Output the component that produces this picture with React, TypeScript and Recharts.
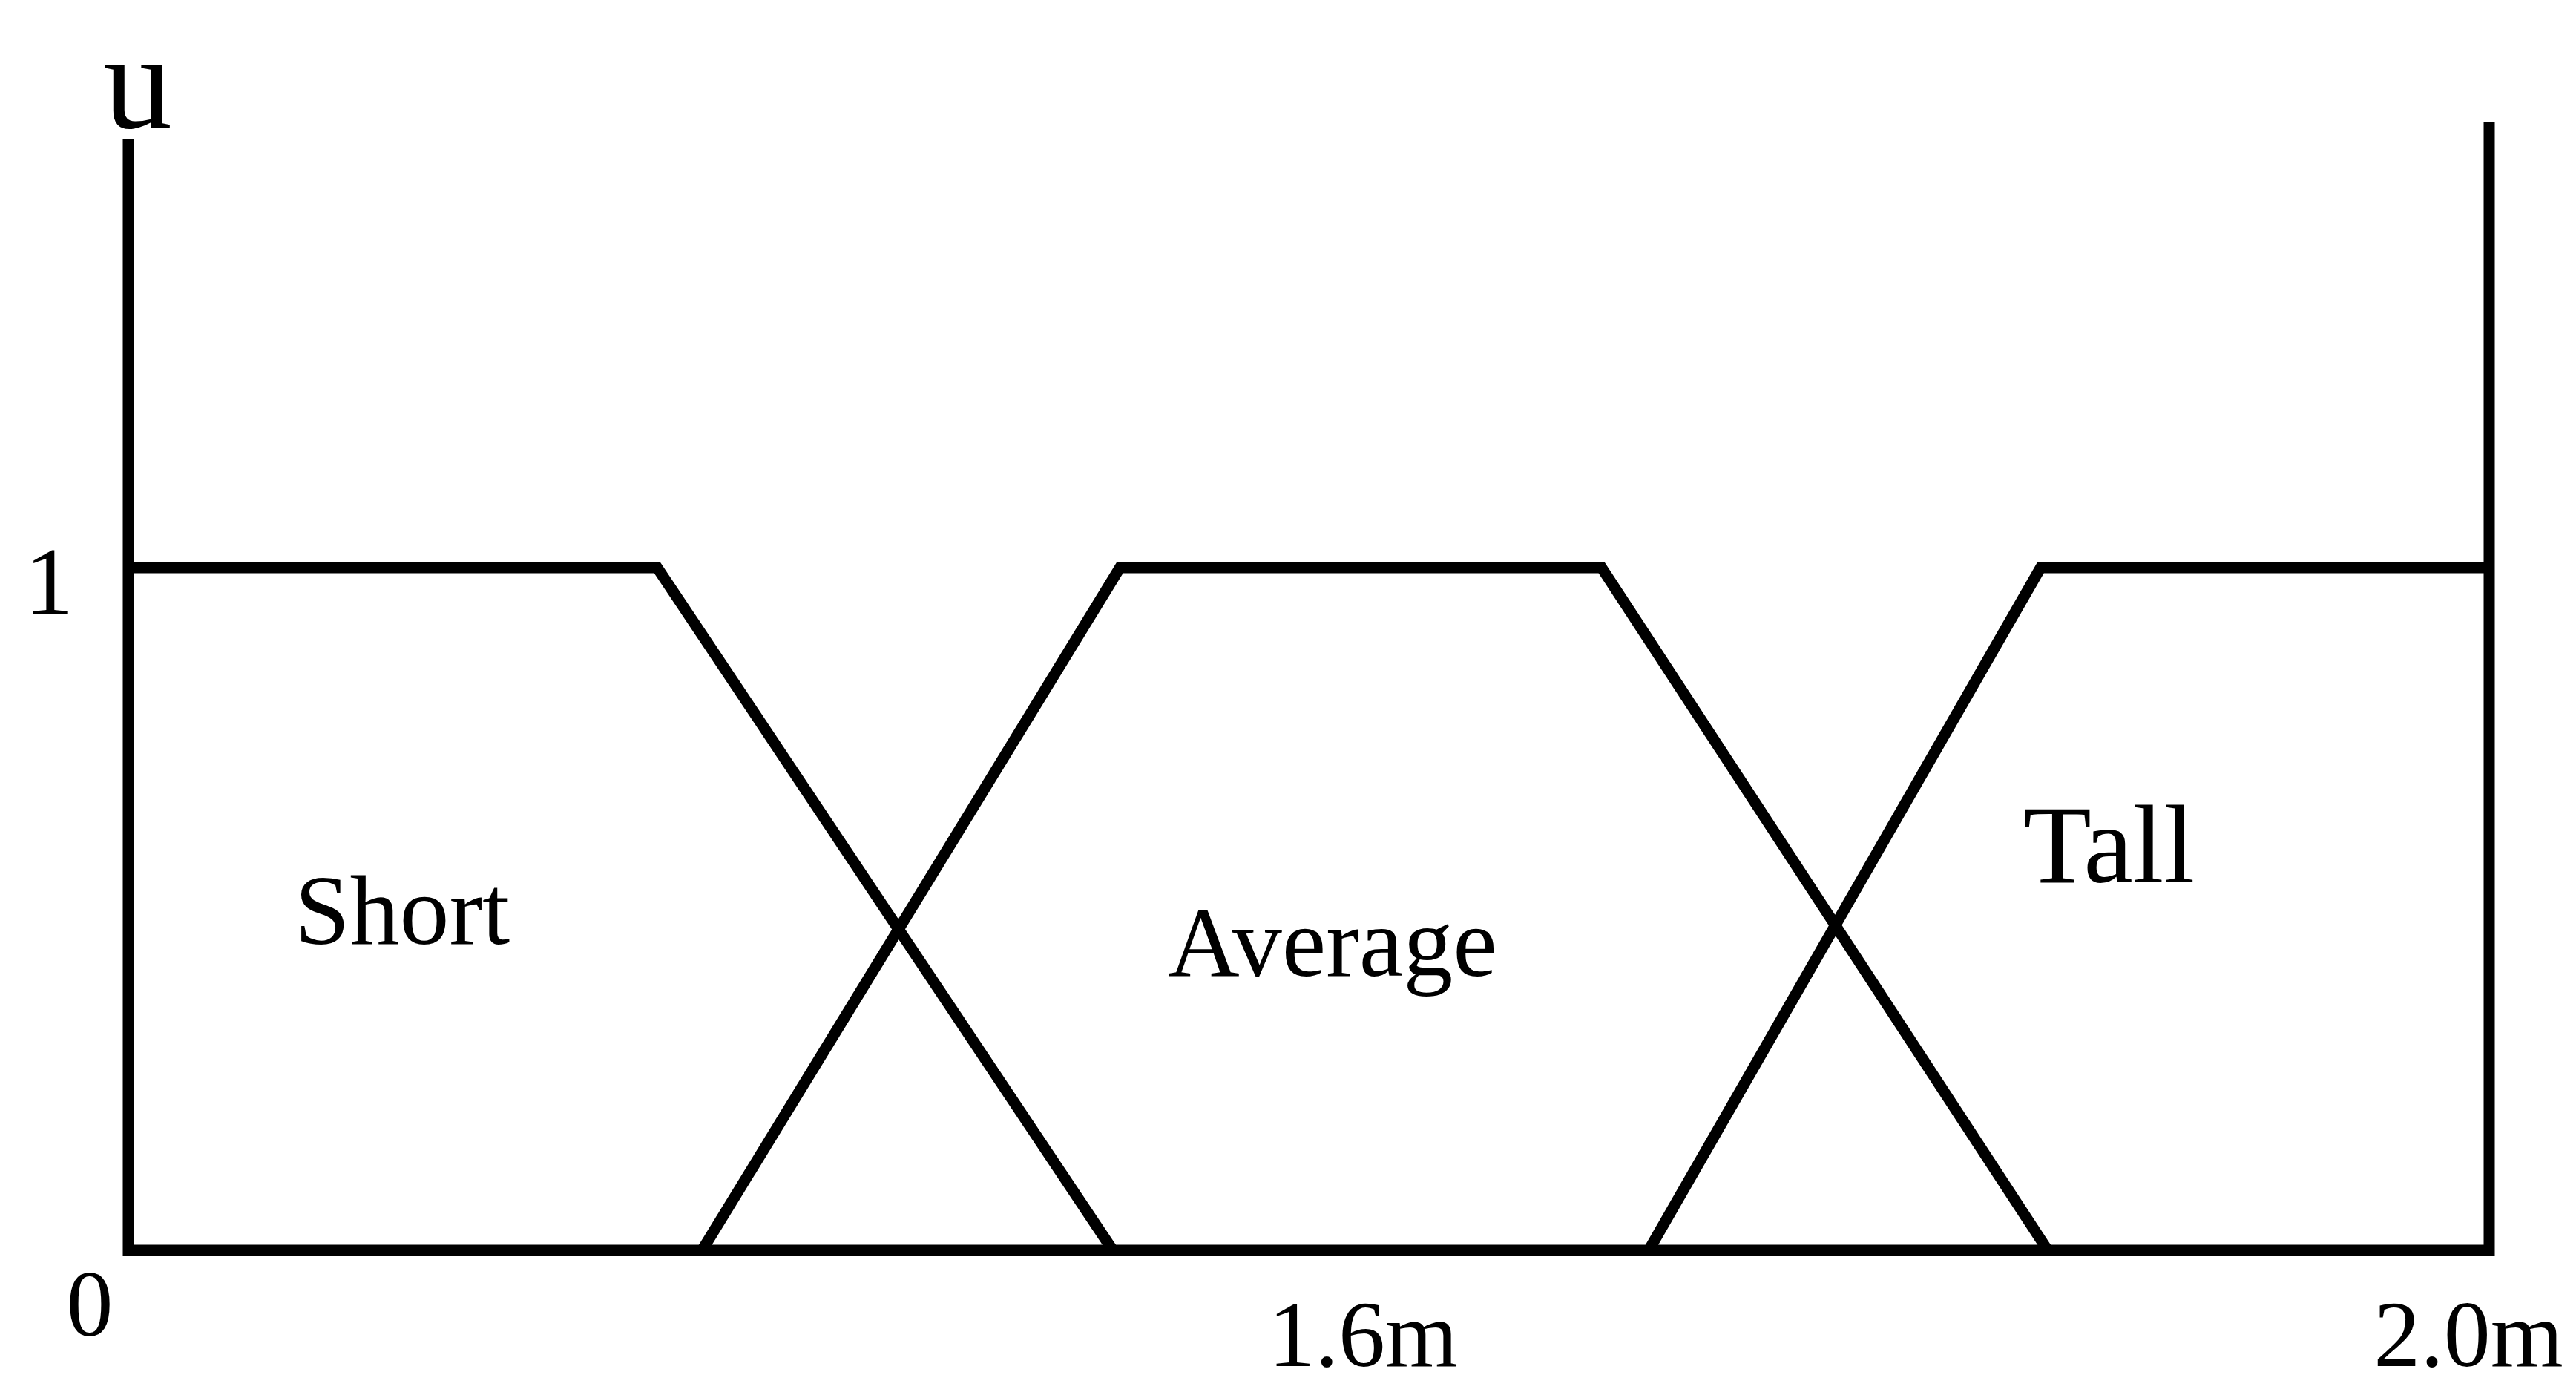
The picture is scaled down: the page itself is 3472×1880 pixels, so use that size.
import { LineChart, Line, XAxis, YAxis, ReferenceLine, ReferenceDot } from "recharts"

// x is the schematic position along the height axis (0 = origin, 100 = 2.0m end)
const shortX = [0, 22.4, 41.7]
const shortU = [1, 1, 0]
const averageX = [24.3, 42.0, 62.4, 81.3]
const averageU = [0, 1, 1, 0]
const tallX = [64.4, 81.0, 100]
const tallU = [0, 1, 1]

const xTicks = [0, 52.3, 100]
const xTickLabels = ["0", "1.6m", "2.0m"]
const yTicks = [1]
const yTickLabels = ["1"]

const setNames = ["Short", "Average", "Tall"]
const setLabelX = [11.6, 51.0, 83.9]
const setLabelU = [0.449, 0.402, 0.539]

const leftAxisTop = 1.62
const rightAxisTop = 1.645

const toPoints = (xs: number[], us: number[]) => xs.map((x, i) => ({ x, u: us[i] }))

const shortData = toPoints(shortX, shortU)
const averageData = toPoints(averageX, averageU)
const tallData = toPoints(tallX, tallU)

const FONT = "Liberation Serif"
const INK = "#000"
const W = 15

const xTickOffset: Record<string, [number, number]> = {
  "0": [-52, 115],
  "1.6m": [0, 156],
  "2.0m": [-28, 156],
}

function XTick(props: any) {
  const { x, y, payload } = props
  const label = xTickLabels[xTicks.indexOf(payload.value)] ?? ""
  const [dx, dy] = xTickOffset[label] ?? [0, 0]
  return (
    <text x={x + dx} y={y + dy} textAnchor="middle" fontFamily={FONT} fontSize={126} fill={INK}>
      {label}
    </text>
  )
}

function YTick(props: any) {
  const { x, y, payload } = props
  const label = yTickLabels[yTicks.indexOf(payload.value)] ?? ""
  return (
    <text x={x - 107} y={y + 62} textAnchor="middle" fontFamily={FONT} fontSize={130} fill={INK}>
      {label}
    </text>
  )
}

const textAt = (text: string, size: number) => (p: any) => {
  const vb = p.viewBox
  return (
    <text x={vb.x + vb.width / 2} y={vb.y + vb.height / 2} textAnchor="middle" fontFamily={FONT} fontSize={size} fill={INK}>
      {text}
    </text>
  )
}

export default function App() {
  return (
    <LineChart
      width={3456}
      height={1864}
      margin={{ top: 67, right: 109, bottom: 0, left: 0 }}
      style={{ overflow: "visible" }}
    >
      <XAxis
        type="number"
        dataKey="x"
        domain={[0, 100]}
        ticks={xTicks}
        tick={<XTick />}
        tickLine={false}
        tickSize={0}
        tickMargin={0}
        height={187}
        axisLine={{ stroke: INK, strokeWidth: W }}
        allowDuplicatedCategory={false}
      />
      <YAxis
        type="number"
        domain={[0, 1.75]}
        ticks={yTicks}
        tick={<YTick />}
        tickLine={false}
        tickSize={0}
        tickMargin={0}
        width={165}
        axisLine={false}
      />
      <ReferenceLine
        segment={[{ x: 0, y: 0 }, { x: 0, y: leftAxisTop }]}
        stroke={INK}
        strokeWidth={W}
        strokeLinecap="square"
        ifOverflow="visible"
      />
      <ReferenceLine
        segment={[{ x: 100, y: 0 }, { x: 100, y: rightAxisTop }]}
        stroke={INK}
        strokeWidth={W}
        strokeLinecap="square"
        ifOverflow="visible"
      />
      <Line data={shortData} dataKey="u" stroke={INK} strokeWidth={W} dot={false} strokeLinejoin="miter" isAnimationActive={false} />
      <Line data={averageData} dataKey="u" stroke={INK} strokeWidth={W} dot={false} strokeLinejoin="miter" isAnimationActive={false} />
      <Line data={tallData} dataKey="u" stroke={INK} strokeWidth={W} dot={false} strokeLinejoin="miter" isAnimationActive={false} />
      {setNames.map((name, i) => (
        <ReferenceDot
          key={name}
          x={setLabelX[i]}
          y={setLabelU[i]}
          r={1}
          fill="none"
          stroke="none"
          ifOverflow="visible"
          label={textAt(name, name === "Tall" ? 150 : 134)}
        />
      ))}
      <ReferenceDot x={0.4} y={1.645} r={1} fill="none" stroke="none" ifOverflow="visible" label={textAt("u", 185)} />
    </LineChart>
  )
}
